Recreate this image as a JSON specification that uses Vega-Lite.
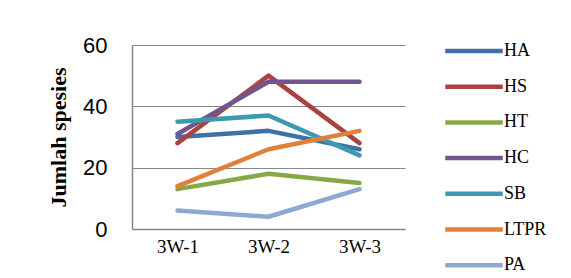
{
  "$schema": "https://vega.github.io/schema/vega-lite/v6.json",
  "autosize": {"type": "none"},
  "padding": {"left": 132, "top": 45, "right": 166, "bottom": 49},
  "width": 273,
  "height": 184,
  "background": "white",
  "data": {"values": [
    {"site": "3W-1", "group": "HA", "n": 30},
    {"site": "3W-2", "group": "HA", "n": 32},
    {"site": "3W-3", "group": "HA", "n": 26},
    {"site": "3W-1", "group": "HS", "n": 28},
    {"site": "3W-2", "group": "HS", "n": 50},
    {"site": "3W-3", "group": "HS", "n": 28},
    {"site": "3W-1", "group": "HT", "n": 13},
    {"site": "3W-2", "group": "HT", "n": 18},
    {"site": "3W-3", "group": "HT", "n": 15},
    {"site": "3W-1", "group": "HC", "n": 31},
    {"site": "3W-2", "group": "HC", "n": 48},
    {"site": "3W-3", "group": "HC", "n": 48},
    {"site": "3W-1", "group": "SB", "n": 35},
    {"site": "3W-2", "group": "SB", "n": 37},
    {"site": "3W-3", "group": "SB", "n": 24},
    {"site": "3W-1", "group": "LTPR", "n": 14},
    {"site": "3W-2", "group": "LTPR", "n": 26},
    {"site": "3W-3", "group": "LTPR", "n": 32},
    {"site": "3W-1", "group": "PA", "n": 6},
    {"site": "3W-2", "group": "PA", "n": 4},
    {"site": "3W-3", "group": "PA", "n": 13}
  ]},
  "mark": {"type": "line", "strokeWidth": 4.5, "strokeCap": "round", "strokeJoin": "round"},
  "encoding": {
    "x": {
      "field": "site", "type": "nominal", "sort": null,
      "scale": {"type": "point", "padding": 0.5},
      "axis": {
        "title": null, "labelAngle": 0, "ticks": false, "tickSize": 0, "grid": false,
        "domainColor": "#868686", "domainWidth": 1.5,
        "labelFont": "Liberation Serif, serif", "labelFontSize": 19, "labelColor": "#000000",
        "labelPadding": 8
      }
    },
    "y": {
      "field": "n", "type": "quantitative",
      "scale": {"domain": [0, 60], "nice": false},
      "axis": {
        "values": [0, 20, 40, 60], "ticks": false, "tickSize": 0,
        "grid": true, "gridColor": "#888888", "gridWidth": 1.2,
        "domainColor": "#868686", "domainWidth": 1.5,
        "labelFont": "Liberation Sans", "labelFontSize": 22, "labelColor": "#000000",
        "labelPadding": 25,
        "title": "Jumlah spesies",
        "titleFont": "Liberation Serif, serif", "titleFontSize": 22, "titleFontWeight": "bold",
        "titleColor": "#000000", "titlePadding": 12
      }
    },
    "color": {
      "field": "group", "type": "nominal", "sort": ["HA", "HS", "HT", "HC", "SB", "LTPR", "PA"],
      "scale": {
        "domain": ["HA", "HS", "HT", "HC", "SB", "LTPR", "PA"],
        "range": ["#4070AA", "#AA4340", "#88A848", "#70558F", "#3D98B0", "#E0803A", "#8DA8D2"]
      },
      "legend": {
        "title": null, "orient": "none", "legendX": 328, "legendY": -8,
        "symbolType": "M-2.5,0H2.5", "symbolSize": 529, "symbolStrokeWidth": 4.5,
        "labelFont": "Liberation Serif, serif", "labelFontSize": 18, "labelColor": "#000000",
        "labelOffset": 16, "rowPadding": 12.7
      }
    }
  },
  "config": {"view": {"stroke": null}}
}
